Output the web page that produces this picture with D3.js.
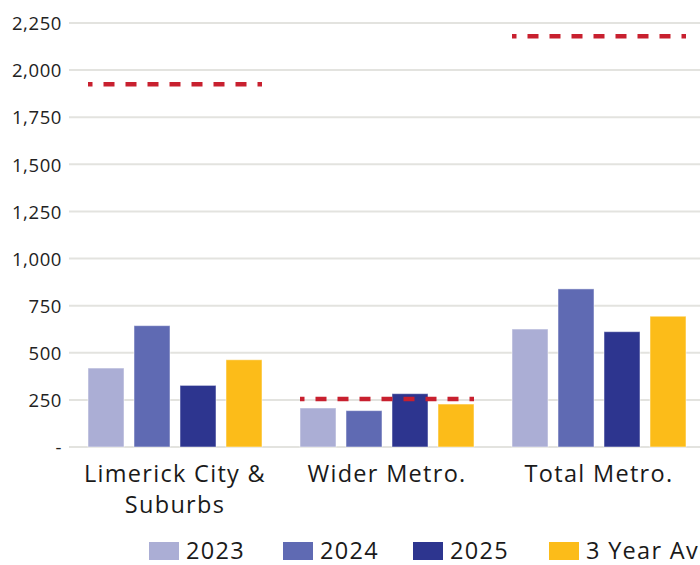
<!DOCTYPE html>
<html><head><meta charset="utf-8">
<script src="https://cdn.jsdelivr.net/npm/d3@7"></script>
<style>html,body{margin:0;padding:0;background:#fff;overflow:hidden}svg{display:block}</style>
</head><body>
<svg id="chart" width="700" height="565"></svg>
<script>
const categories = [["Limerick City &","Suburbs"],["Wider Metro."],["Total Metro."]];
const categoryKeys = ["Limerick City & Suburbs","Wider Metro.","Total Metro."];
const seriesNames = ["2023","2024","2025","3 Year Average"];
const v2023 = [419, 207, 626];
const v2024 = [644, 193, 839];
const v2025 = [327, 283, 612];
const vAvg  = [463, 228, 694];
const target = [1925, 255, 2180];
const yTicks = [0,250,500,750,1000,1250,1500,1750,2000,2250];
const colors = ["#abaed5","#5f6ab3","#2d358f","#fcbc19"];
const targetColor = "#c8202f";

const series = [v2023, v2024, v2025, vAvg];
const svg = d3.select("#chart");
const font = "'Open Sans', Lato, sans-serif";
const textColor = "#1a1a1a";

const x0 = d3.scaleBand().domain(categoryKeys).range([69, 705]).paddingInner(0).paddingOuter(0);
const y = d3.scaleLinear().domain([0, 2250]).range([447, 23]);
const x1 = d3.scaleBand().domain(seriesNames).range([19, 193]).paddingInner(10/46).paddingOuter(0);

// gridlines
svg.append("g").selectAll("line").data(yTicks).join("line")
  .attr("x1", 69).attr("x2", 705)
  .attr("y1", d => y(d)).attr("y2", d => y(d))
  .attr("stroke", "#e3e3df").attr("stroke-width", 2);

// y axis labels
const yAxis = d3.axisLeft(y).tickValues(yTicks).tickSize(0).tickPadding(0)
  .tickFormat(d => d === 0 ? "-" : d3.format(",")(d));
const ya = svg.append("g").attr("transform", "translate(62,0)").call(yAxis);
ya.select(".domain").remove();
ya.selectAll("text").attr("font-family", font).attr("font-size", 18.5).attr("fill", "#222")
  .attr("dy", "0.36em").attr("letter-spacing", 0.6);

// bars
const groups = svg.append("g").selectAll("g").data(categoryKeys).join("g")
  .attr("transform", d => `translate(${x0(d)},0)`);
groups.selectAll("rect").data((d, i) => seriesNames.map((s, j) => ({s, v: series[j][i], c: colors[j]})))
  .join("rect")
  .attr("x", d => x1(d.s)).attr("width", x1.bandwidth())
  .attr("y", d => y(d.v)).attr("height", d => y(0) - y(d.v))
  .attr("fill", d => d.c)
  .attr("stroke", "#ffffff").attr("stroke-opacity", 0.5).attr("stroke-width", 1);

// target dashed lines
svg.append("g").selectAll("line").data(categoryKeys).join("line")
  .attr("x1", d => x0(d) + x1(seriesNames[0]))
  .attr("x2", d => x0(d) + x1(seriesNames[3]) + x1.bandwidth())
  .attr("y1", (d, i) => y(target[i])).attr("y2", (d, i) => y(target[i]))
  .attr("stroke", targetColor).attr("stroke-width", 4.5)
  .attr("stroke-dasharray", "11,11").attr("stroke-dashoffset", 6.5);

// x category labels
const xl = svg.append("g");
categories.forEach((lines, i) => {
  const cx = x0(categoryKeys[i]) + x0.bandwidth() / 2;
  const t = xl.append("text").attr("x", cx).attr("y", 482)
    .attr("text-anchor", "middle").attr("font-family", font).attr("font-size", 23.5)
    .attr("letter-spacing", 1.3).attr("fill", textColor);
  lines.forEach((ln, k) => t.append("tspan").attr("x", cx).attr("y", 482 + k * 31).text(ln));
});

// legend
const legendX = [149, 283, 413, 549];
const lg = svg.append("g").selectAll("g").data(seriesNames).join("g")
  .attr("transform", (d, i) => `translate(${legendX[i]},542)`);
lg.append("rect").attr("width", 30).attr("height", 18).attr("fill", (d, i) => colors[i]);
lg.append("text").attr("x", 37).attr("y", 17).attr("font-family", font).attr("font-size", 23.5)
  .attr("letter-spacing", 1.3).attr("fill", textColor).text(d => d);
</script>
</body></html>
